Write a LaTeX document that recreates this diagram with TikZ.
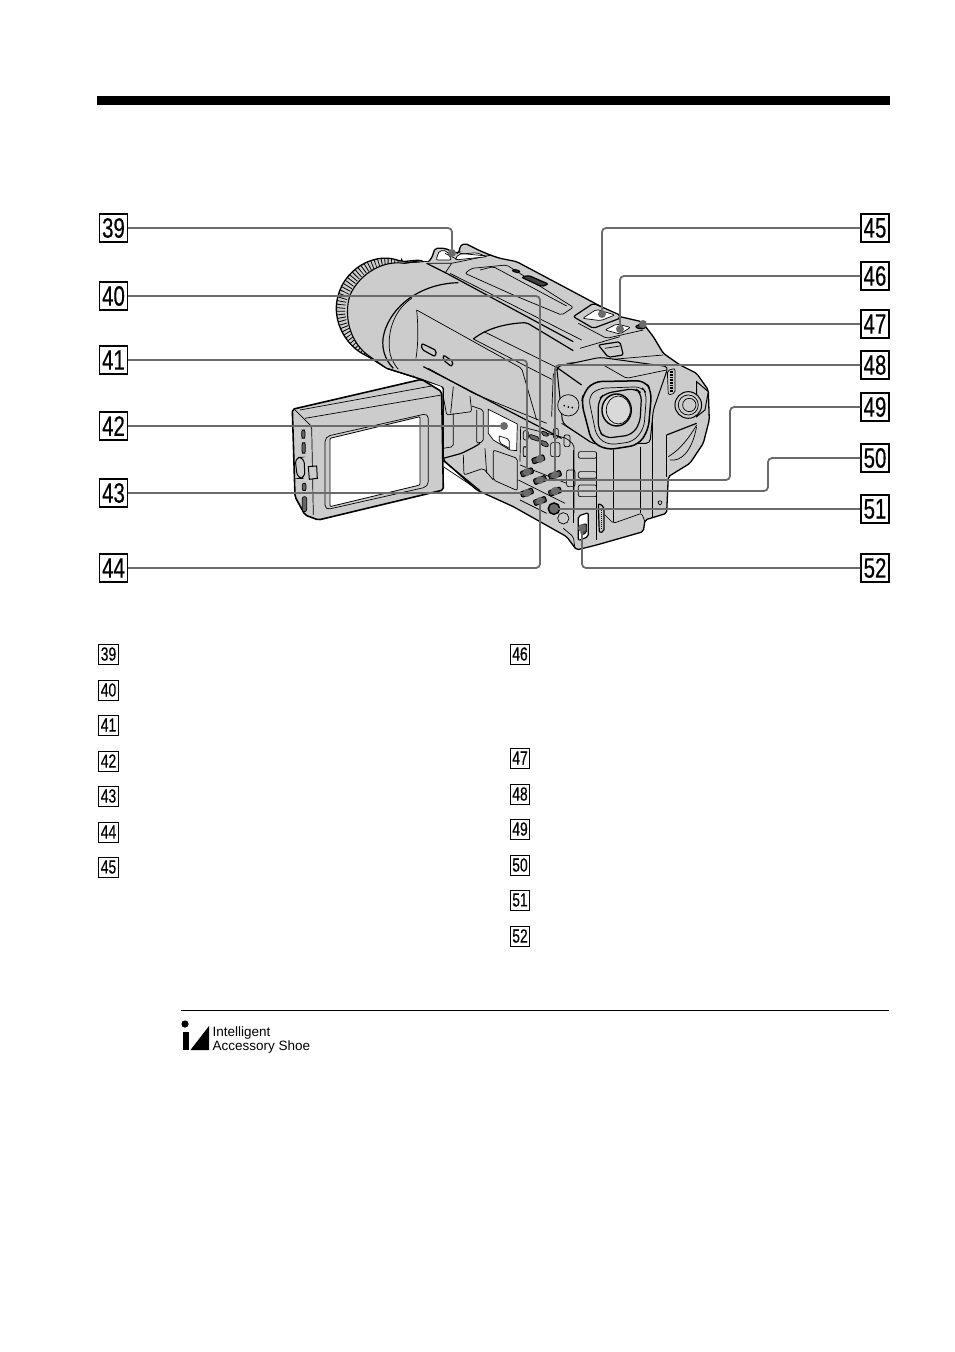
\documentclass[tikz,border=0pt]{standalone}
\usepackage{fontspec}
\setmainfont{Liberation Sans}
\newfontfamily\numfont[FakeStretch=0.73,FakeBold=0.4]{Liberation Sans}
\tikzset{
	callbox/.style={draw=black, line width=1.1pt, fill=white, inner sep=0pt, minimum width=28pt, minimum height=28pt, font=\numfont\fontsize{28}{28}\selectfont},
	legbox/.style={draw=black, line width=0.9pt, inner sep=0pt, minimum width=19.5pt, minimum height=20pt, font=\numfont\fontsize{19}{19}\selectfont},
	leader/.style={line width=1.8pt, color=black!58, rounded corners=4pt},
	spot/.style={circle, fill=black!58, inner sep=0pt, minimum size=8pt},
	keybtn/.style={draw=black, line width=1pt, fill=black!70, rounded corners=1pt, rotate=20, inner sep=0pt, minimum width=12.5pt, minimum height=5.5pt},
	hull/.style={draw=black, line width=1.3pt, fill=black!20, rounded corners=2pt},
	edge/.style={line width=0.7pt, rounded corners=2pt},
	heavy/.style={line width=1.2pt, rounded corners=2pt},
	logotext/.style={inner sep=0pt, anchor=base west, font=\fontsize{13.5}{13.5}\selectfont}
}

\begin{document}
\begin{tikzpicture}[x=1pt, y=-1pt]
			%%%%% START %%%%%
			\useasboundingbox (0, 0) rectangle (954, 1352);

			\draw[fill=black] (97, 96) rectangle (889, 104);

			% camera, in units of a third of a pixel
			\begin{scope}[shift={(280, 220)}, x=0.3333pt, y=-0.3333pt]
				\draw[hull] (365, 125) -- (420, 120) -- (440, 130) -- (455, 115) -- (465, 85) -- (495, 85) -- (530, 100) -- (540, 95) -- (538, 80) -- (555, 70) -- (595, 90) -- (630, 105) -- (660, 115) -- (710, 125) -- (870, 210) -- (1020, 290) -- (1085, 305) -- (1120, 350) -- (1150, 400) -- (1200, 435) -- (1250, 460) -- (1285, 510) -- (1288, 600) -- (1270, 670) -- (1230, 730) -- (1165, 770) -- (1160, 880) -- (1095, 900) -- (1090, 935) -- (950, 975) -- (890, 990) -- (860, 950) -- (700, 860) -- (590, 810) -- (490, 720) -- (490, 500) -- (430, 480) -- (320, 445) -- (265, 410) .. controls (190, 375) and (150, 290) .. (180, 210) .. controls (210, 140) and (290, 95) .. (365, 125) -- cycle;

				% lens ring
				\begin{scope}
					\clip (265, 410) .. controls (190, 375) and (150, 290) .. (180, 210) .. controls (210, 140) and (290, 95) .. (365, 125) -- (300, 300) -- cycle;
					\draw[line width=12pt, dash pattern=on 0.8pt off 2.6pt] (255, 400) .. controls (185, 355) and (160, 280) .. (190, 215) .. controls (225, 145) and (290, 105) .. (360, 122);
				\end{scope}
				\draw[line width=1.1pt, fill=black!20] (270, 410) .. controls (210, 370) and (190, 290) .. (210, 225) .. controls (240, 160) and (310, 120) .. (372, 130) -- (440, 125) -- (500, 300) -- (400, 470) -- (320, 445) -- cycle;
				\draw[draw=none, fill=black!20] (372, 131) -- (640, 112) -- (800, 300) -- (490, 500) -- (330, 440) -- cycle;
				\draw[line width=1.2pt] (372, 130) -- (420, 122);
				\draw[line width=1.2pt] (320, 445) -- (430, 480);

				% barrel curves
				\draw[heavy] (535, 188) .. controls (440, 190) and (350, 240) .. (315, 330) .. controls (300, 380) and (315, 420) .. (340, 445);
				\draw[edge] (395, 235) .. controls (350, 265) and (325, 320) .. (328, 385) .. controls (330, 410) and (340, 430) .. (355, 448);
				\draw[edge] (410, 270) .. controls (415, 320) and (415, 370) .. (408, 415);

				% top plate
				\draw[heavy] (440, 130) -- (500, 160) -- (880, 365);
				\draw[edge] (440, 130) -- (515, 130) -- (635, 105);
				\draw[edge] (495, 160) -- (515, 130);
				\draw[edge, fill=white] (468, 120) -- (478, 92) -- (500, 92) -- (515, 120) -- cycle;
				\draw[edge, fill=white] (525, 120) -- (535, 103) -- (590, 98) -- (620, 110) -- cycle;
				\draw[edge] (540, 100) -- (620, 108);
				\draw[edge] (495, 100) -- (535, 120);
				\draw[edge] (510, 160) -- (905, 360);
				\draw[edge] (555, 160) -- (575, 145) -- (680, 135) -- (880, 262) -- (845, 285) -- (700, 225) -- cycle;
				\draw[edge] (600, 150) -- (640, 140) -- (860, 258);
				\draw[heavy, fill=black!75] (725, 172) -- (745, 166) -- (805, 192) -- (785, 200) -- cycle;
				\draw[heavy, fill=black!75] (695, 150) -- (710, 148) -- (722, 156) -- (705, 158) -- cycle;

				% accessory shoe
				\draw[heavy, fill=black!20] (880, 290) -- (940, 250) -- (1020, 285) -- (1020, 295) -- (940, 325) -- cycle;
				\draw[edge, fill=white] (908, 295) -- (950, 268) -- (1005, 285) -- (962, 302) -- cycle;
				\draw[edge, fill=white] (975, 330) -- (1010, 312) -- (1052, 322) -- (1020, 342) -- cycle;
				\draw[heavy, fill=black!75] (1065, 320) -- (1090, 308) -- (1100, 322) -- (1080, 328) -- cycle;
				\draw[edge] (895, 310) -- (980, 355) -- (1090, 330);
				\draw[edge] (900, 385) -- (1020, 350);
				\draw[heavy, fill=black!20] (955, 375) -- (1020, 365) -- (1030, 405) -- (985, 412) -- cycle;
				\draw[edge] (975, 385) -- (1020, 378);
				\draw[edge] (860, 430) -- (1150, 405);

				% upper front panel
				\draw[edge] (410, 270) -- (725, 445) -- (770, 600);
				\draw[heavy] (580, 357) .. controls (620, 325) and (680, 310) .. (740, 308) -- (880, 392);
				\draw[edge] (580, 357) -- (815, 478);
				\draw[edge] (612, 335) -- (835, 445);
				\draw[heavy] (425, 370) -- (470, 392) -- (465, 410) -- (425, 388) -- cycle;
				\draw[heavy] (490, 405) -- (520, 425) -- (515, 440) -- (490, 420) -- cycle;
				\draw[heavy] (430, 440) -- (845, 655);
				\draw[edge] (445, 445) -- (580, 520) -- (800, 610);

				% space under the barrel, hinge
				\draw[edge] (490, 530) -- (500, 585) -- (575, 575) -- (570, 528);
				\draw[edge] (520, 500) -- (512, 580);
				\draw[edge] (575, 558) -- (610, 570) -- (610, 665) -- (590, 670) -- (590, 570);
				\draw[edge] (520, 580) -- (520, 680) -- (490, 685);
				\draw[heavy] (490, 715) -- (545, 700) -- (585, 680) -- (600, 670);
				\draw[heavy] (490, 722) -- (600, 812);
				\draw[edge] (490, 740) -- (580, 800);
				\draw[edge] (550, 705) -- (552, 765) -- (610, 745) -- (640, 780);
				\draw[edge] (640, 690) -- (712, 715) -- (712, 812) -- (640, 780) -- cycle;
				\draw[edge] (615, 685) -- (620, 760);
				\draw[line width=0.7pt, fill=white] (625, 568) -- (712, 612) -- (710, 692) -- (690, 690) -- (640, 660) -- (625, 640) -- cycle;
				\draw[edge] (658, 648) -- (688, 658) -- (688, 688);
				\draw[edge] (658, 648) -- (658, 668) -- (688, 685);

				% control panel
				\draw[edge] (722, 620) -- (860, 655) -- (882, 675) -- (882, 880);
				\draw[edge] (722, 620) -- (720, 725);
				\draw[edge] (720, 735) -- (860, 790);
				\draw[edge] (715, 780) -- (855, 850);
				\draw[edge] (720, 840) -- (800, 880);
				\draw[edge] (730, 632) rectangle (745, 660);
				\draw[edge, fill=black!60] (748, 642) -- (778, 652) -- (778, 665) -- (748, 655) -- cycle;
				\draw[edge, fill=black!60] (782, 660) -- (805, 668) -- (805, 682) -- (782, 675) -- cycle;
				\draw[edge, fill=black!60] (785, 632) -- (805, 640) -- (805, 650) -- (785, 645) -- cycle;
				\draw[edge] (730, 680) rectangle (740, 710);
				\draw[edge] (812, 668) rectangle (840, 710);
				\draw[edge] (820, 625) rectangle (835, 655);
				\draw[edge] (852, 645) rectangle (870, 680);
				\draw[edge] (860, 750) rectangle (885, 800);
				\draw[edge] (880, 690) -- (880, 910);
				\node[keybtn] (btn40) at (775, 718) {};
				\node[keybtn] (btn41) at (741, 757) {};
				\node[keybtn] (btn49) at (780, 780) {};
				\node[keybtn] (btn48) at (825, 765) {};
				\node[keybtn] (btn50) at (825, 815) {};
				\node[keybtn] (btn43) at (741, 818) {};
				\node[keybtn] (btn44) at (780, 843) {};
				\draw[line width=1.5pt, fill=black!55] (822, 866) circle (17);
				\draw[line width=0.7pt, fill=black!20] (822, 866) circle (7);
				\draw[edge] (850, 895) circle (17);

				% right side and strips
				\draw[edge] (895, 695) -- (950, 695) -- (950, 715) -- (895, 715) -- cycle;
				\draw[edge] (895, 755) -- (950, 755) -- (950, 775) -- (895, 775) -- cycle;
				\draw[edge] (895, 795) -- (950, 795) -- (950, 830) -- (895, 830) -- cycle;
				\draw[edge] (895, 812) -- (950, 812);
				\draw[heavy, fill=white] (895, 888) -- (925, 878) -- (925, 950) -- (895, 962) -- cycle;
				\draw[edge, fill=black!70] (903, 915) -- (920, 910) -- (920, 940) -- (903, 945) -- cycle;
				\draw[heavy] (955, 850) -- (972, 860) -- (972, 935) -- (958, 938) -- cycle;
				\draw[edge, dash pattern=on 1pt off 1pt] (964, 865) -- (964, 930);
				\draw[edge] (885, 985) -- (880, 950) -- (850, 925);
				\draw[edge] (975, 885) -- (1000, 910) -- (1085, 880) -- (1095, 905);
				\draw[edge] (1000, 690) -- (1000, 905);
				\draw[edge] (1080, 680) -- (1080, 880);
				\draw[edge] (1118, 570) -- (1118, 890);
				\draw[edge] (950, 700) -- (950, 960);
				\draw[edge] (1132, 843) -- (1148, 843) -- (1140, 858) -- cycle;

				% viewfinder
				\draw[line width=1pt, fill=black!20, rounded corners=4pt] (830, 440) -- (960, 412) -- (1165, 440) -- (1120, 570) -- (1110, 670) -- (940, 672) -- (848, 610) -- cycle;
				\draw[edge] (838, 440) -- (820, 460) -- (815, 590);
				\draw[edge] (970, 435) -- (1040, 475) -- (1160, 450);
				\draw[heavy] (830, 442) -- (905, 495);
				\draw[edge] (845, 610) -- (930, 665);
				\draw[line width=0.7pt, fill=black!20] (865, 556) circle (32);
				\fill (853, 557) circle (3);
				\fill (865, 561) circle (3);
				\fill (877, 563) circle (3);

				% eyepiece
				\draw[line width=1.5pt, fill=black!20, rounded corners=8pt] (910, 520) -- (940, 485) -- (1095, 482) -- (1115, 515) -- (1105, 630) -- (1075, 675) -- (980, 690) -- (935, 665) -- (905, 550) -- cycle;
				\draw[edge, rounded corners=7pt] (925, 530) -- (955, 505) -- (1085, 500) -- (1100, 520) -- (1092, 625) -- (1060, 665) -- (985, 675) -- (950, 650) -- cycle;
				\draw[heavy, rounded corners=7pt] (955, 540) -- (975, 520) -- (1065, 505) -- (1085, 520) -- (1080, 610) -- (1055, 645) -- (975, 655) -- (955, 630) -- cycle;
				\draw[line width=1.4pt, fill=black!15] (1010, 570) ellipse (44 and 48);
				\draw[edge] (1015, 570) ellipse (36 and 42);

				% strap stripe and dial
				\draw[edge] (1162, 452) -- (1185, 445) -- (1185, 520) -- (1165, 525) -- cycle;
				\draw[line width=2.5pt, dash pattern=on 0.8pt off 0.8pt] (1175, 452) -- (1175, 518);
				\draw[line width=1pt, fill=black!20] (1250, 485) -- (1285, 515) -- (1275, 570) -- (1250, 590) -- cycle;
				\draw[line width=1pt, fill=black!20] (1225, 555) circle (40);
				\draw[line width=0.7pt] (1225, 555) circle (30);
				\draw[line width=0.7pt] (1228, 555) circle (20);
				\draw[heavy] (1160, 645) -- (1250, 610);
				\draw[edge] (1160, 645) -- (1160, 770);
				\draw[edge] (1165, 710) .. controls (1200, 690) and (1230, 650) .. (1250, 615);
				\draw[edge] (1170, 720) .. controls (1200, 725) and (1235, 700) .. (1250, 620);

				% folding screen
				\draw[hull, line width=1.6pt] (37, 568) -- (425, 478) -- (485, 515) -- (490, 810) -- (115, 900) -- (75, 885) -- (45, 830) -- cycle;
				\draw[edge] (60, 570) -- (455, 498);
				\draw[edge] (75, 595) -- (485, 525);
				\draw[edge] (45, 570) -- (95, 620) -- (100, 885);
				\draw[edge, rounded corners=5pt] (135, 650) -- (445, 580) -- (445, 800) -- (135, 870) -- cycle;
				\draw[line width=0.8pt, fill=white, rounded corners=1pt] (150, 655) -- (420, 590) -- (420, 795) -- (150, 860) -- cycle;
				\draw[edge, fill=black!60] (65, 630) rectangle (75, 655);
				\draw[edge, fill=black!60] (66, 668) rectangle (76, 700);
				\draw[line width=1pt, fill=black!20, rounded corners=6pt] (45, 712) -- (72, 712) -- (75, 775) -- (52, 775) -- cycle;
				\draw[line width=1pt, fill=black!20] (85, 740) -- (110, 738) -- (112, 775) -- (88, 778) -- cycle;
				\draw[edge, fill=black!60] (67, 790) rectangle (78, 812);
				\draw[edge, fill=black!60] (67, 830) rectangle (80, 875);
			\end{scope}

			\node[spot] (dot39) at (452, 253) {};
			\node[spot] (dot40) at (540, 459) {};
			\node[spot] (dot41) at (527, 472) {};
			\node[spot] (dot42) at (504, 426) {};
			\node[spot] (dot43) at (527, 493) {};
			\node[spot] (dot44) at (540, 501) {};
			\node[spot] (dot45) at (602, 314) {};
			\node[spot] (dot46) at (620, 329) {};
			\node[spot] (dot47) at (643, 324) {};
			\node[spot] (dot48) at (555, 475) {};
			\node[spot] (dot49) at (540, 480) {};
			\node[spot] (dot50) at (555, 491) {};
			\node[spot] (dot51) at (554, 509) {};
			\node[spot] (dot52) at (582, 528) {};

			\node[callbox] (box39) at (113.5, 228) {39};
			\node[callbox] (box40) at (113.5, 296) {40};
			\node[callbox] (box41) at (113.5, 360) {41};
			\node[callbox] (box42) at (113.5, 426) {42};
			\node[callbox] (box43) at (113.5, 493) {43};
			\node[callbox] (box44) at (113.5, 568) {44};
			\node[callbox] (box45) at (875, 228) {45};
			\node[callbox] (box46) at (875, 276) {46};
			\node[callbox] (box47) at (875, 324) {47};
			\node[callbox] (box48) at (875, 365) {48};
			\node[callbox] (box49) at (875, 407) {49};
			\node[callbox] (box50) at (875, 458) {50};
			\node[callbox] (box51) at (875, 509) {51};
			\node[callbox] (box52) at (875, 568) {52};

			\coordinate (bend49) at (730, 480);
			\coordinate (bend50) at (768, 491);

			\draw[leader] (box39) -| (dot39);
			\draw[leader] (box40) -| (dot40);
			\draw[leader] (box41) -| (dot41);
			\draw[leader] (box42) -- (dot42);
			\draw[leader] (box43) -- (dot43);
			\draw[leader] (box44) -| (dot44);
			\draw[leader] (box45) -| (dot45);
			\draw[leader] (box46) -| (dot46);
			\draw[leader] (box47) -- (dot47);
			\draw[leader] (box48) -| (dot48);
			\draw[leader] (box49) -| (bend49) -- (dot49);
			\draw[leader] (box50) -| (bend50) -- (dot50);
			\draw[leader] (box51) -- (dot51);
			\draw[leader] (box52) -| (dot52);

			\node[legbox] (key39) at (108.5, 654) {39};
			\node[legbox] (key40) at (108.5, 690) {40};
			\node[legbox] (key41) at (108.5, 725) {41};
			\node[legbox] (key42) at (108.5, 761) {42};
			\node[legbox] (key43) at (108.5, 796) {43};
			\node[legbox] (key44) at (108.5, 832) {44};
			\node[legbox] (key45) at (108.5, 867) {45};
			\node[legbox] (key46) at (520, 654) {46};
			\node[legbox] (key47) at (520, 758) {47};
			\node[legbox] (key48) at (520, 794) {48};
			\node[legbox] (key49) at (520, 829) {49};
			\node[legbox] (key50) at (520, 865) {50};
			\node[legbox] (key51) at (520, 900) {51};
			\node[legbox] (key52) at (520, 936) {52};

			\draw[line width=1pt] (181, 1010) -- (889, 1010);

			\fill (185, 1024) circle (3.6);
			\fill (182.5, 1031.5) rectangle (188.5, 1050);
			\fill (190.5, 1050) -- (209, 1026) -- (209, 1050) -- cycle;
			\node[logotext] (logo1) at (212.5, 1036) {Intelligent};
			\node[logotext] (logo2) at (212.5, 1050) {Accessory Shoe};
			%%%%% END %%%%%
		\end{tikzpicture}
\end{document}
